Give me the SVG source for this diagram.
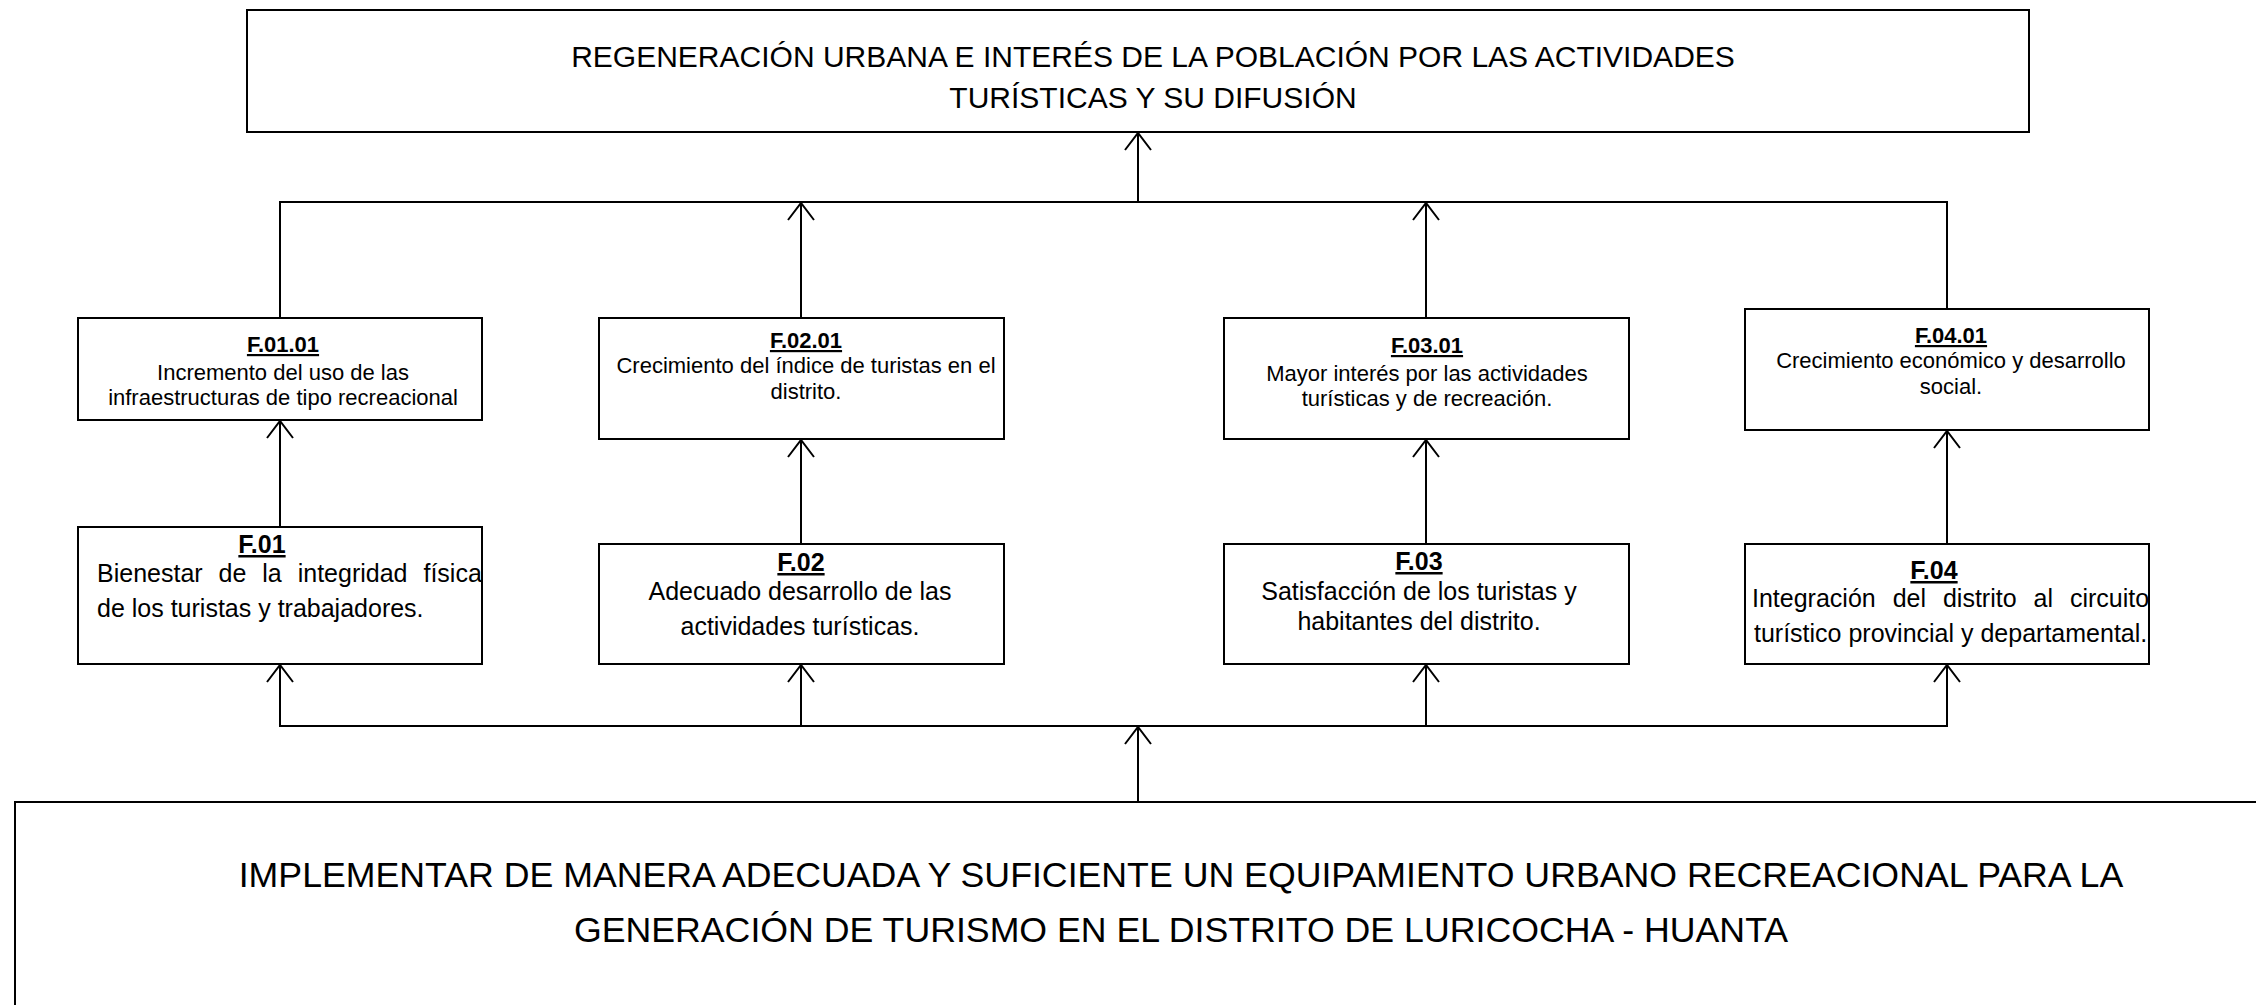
<svg xmlns="http://www.w3.org/2000/svg" width="2256" height="1005" viewBox="0 0 2256 1005">
<style>
  .box { fill: #ffffff; stroke: #000000; stroke-width: 2; }
  .ln { fill: none; stroke: #000000; stroke-width: 2; }
  text { font-family: "Liberation Sans", Arial, sans-serif; fill: #000000; }
  .big { font-size: 30px; text-anchor: middle; }
  .huge { font-size: 35.7px; text-anchor: middle; }
  .st { font-size: 22px; font-weight: bold; text-anchor: middle; text-decoration: underline; }
  .sb { font-size: 22px; text-anchor: middle; }
  .lt { font-size: 25px; font-weight: bold; text-anchor: middle; text-decoration: underline; }
  .lb { font-size: 25px; text-anchor: middle; }
  .lbs { font-size: 25px; }
</style>
<defs>
  <marker id="arr" markerUnits="userSpaceOnUse" markerWidth="40" markerHeight="40" viewBox="-20 -20 40 40" refX="0" refY="0" orient="auto">
    <path d="M-17,-13 L0,0 L-17,13" fill="none" stroke="#000" stroke-width="2"/>
  </marker>
</defs>
<rect x="0" y="0" width="2256" height="1005" fill="#ffffff"/>

<g id="connectors">
  <path class="ln" d="M1138,202 L1138,133" marker-end="url(#arr)"/>
  <path class="ln" d="M280,318 L280,202 L1947,202 L1947,309"/>
  <path class="ln" d="M801,318 L801,203" marker-end="url(#arr)"/>
  <path class="ln" d="M1426,318 L1426,203" marker-end="url(#arr)"/>
  <path class="ln" d="M280,527 L280,421" marker-end="url(#arr)"/>
  <path class="ln" d="M801,544 L801,440" marker-end="url(#arr)"/>
  <path class="ln" d="M1426,544 L1426,440" marker-end="url(#arr)"/>
  <path class="ln" d="M1947,544 L1947,431" marker-end="url(#arr)"/>
  <path class="ln" d="M280,665 L280,726 L1947,726 L1947,665"/>
  <path class="ln" d="M280,726 L280,665" marker-end="url(#arr)"/>
  <path class="ln" d="M801,726 L801,665" marker-end="url(#arr)"/>
  <path class="ln" d="M1426,726 L1426,665" marker-end="url(#arr)"/>
  <path class="ln" d="M1947,726 L1947,665" marker-end="url(#arr)"/>
  <path class="ln" d="M1138,802 L1138,727" marker-end="url(#arr)"/>
</g>

<g id="top">
  <rect class="box" x="247" y="10" width="1782" height="122"/>
  <text class="big" x="1153" y="67">REGENERACIÓN URBANA E INTERÉS DE LA POBLACIÓN POR LAS ACTIVIDADES</text>
  <text class="big" x="1153" y="108">TURÍSTICAS Y SU DIFUSIÓN</text>
</g>

<g id="f0101">
  <rect class="box" x="78" y="318" width="404" height="102"/>
  <text class="st" x="283" y="352">F.01.01</text>
  <text class="sb" x="283" y="380">Incremento del uso de las</text>
  <text class="sb" x="283" y="405">infraestructuras de tipo recreacional</text>
</g>

<g id="f0201">
  <rect class="box" x="599" y="318" width="405" height="121"/>
  <text class="st" x="806" y="348">F.02.01</text>
  <text class="sb" x="806" y="373">Crecimiento del índice de turistas en el</text>
  <text class="sb" x="806" y="399">distrito.</text>
</g>

<g id="f0301">
  <rect class="box" x="1224" y="318" width="405" height="121"/>
  <text class="st" x="1427" y="353">F.03.01</text>
  <text class="sb" x="1427" y="381">Mayor interés por las actividades</text>
  <text class="sb" x="1427" y="406">turísticas y de recreación.</text>
</g>

<g id="f0401">
  <rect class="box" x="1745" y="309" width="404" height="121"/>
  <text class="st" x="1951" y="343">F.04.01</text>
  <text class="sb" x="1951" y="368">Crecimiento económico y desarrollo</text>
  <text class="sb" x="1951" y="394">social.</text>
</g>

<g id="f01">
  <rect class="box" x="78" y="527" width="404" height="137"/>
  <text class="lt" x="262" y="553">F.01</text>
  <text class="lbs" x="97" y="582" word-spacing="9">Bienestar de la integridad física</text>
  <text class="lbs" x="97" y="617">de los turistas y trabajadores.</text>
</g>

<g id="f02">
  <rect class="box" x="599" y="544" width="405" height="120"/>
  <text class="lt" x="801" y="571">F.02</text>
  <text class="lb" x="800" y="600">Adecuado desarrollo de las</text>
  <text class="lb" x="800" y="635">actividades turísticas.</text>
</g>

<g id="f03">
  <rect class="box" x="1224" y="544" width="405" height="120"/>
  <text class="lt" x="1419" y="570">F.03</text>
  <text class="lb" x="1419" y="600">Satisfacción de los turistas y</text>
  <text class="lb" x="1419" y="630">habitantes del distrito.</text>
</g>

<g id="f04">
  <rect class="box" x="1745" y="544" width="404" height="120"/>
  <text class="lt" x="1934" y="579">F.04</text>
  <text class="lbs" x="1752" y="607" word-spacing="10">Integración del distrito al circuito</text>
  <text class="lbs" x="1754" y="642">turístico provincial y departamental.</text>
</g>

<g id="bottom">
  <rect class="box" x="15" y="802" width="2300" height="300"/>
  <text class="huge" x="1181" y="887">IMPLEMENTAR DE MANERA ADECUADA Y SUFICIENTE UN EQUIPAMIENTO URBANO RECREACIONAL PARA LA</text>
  <text class="huge" x="1181" y="942">GENERACIÓN DE TURISMO EN EL DISTRITO DE LURICOCHA - HUANTA</text>
</g>
</svg>
